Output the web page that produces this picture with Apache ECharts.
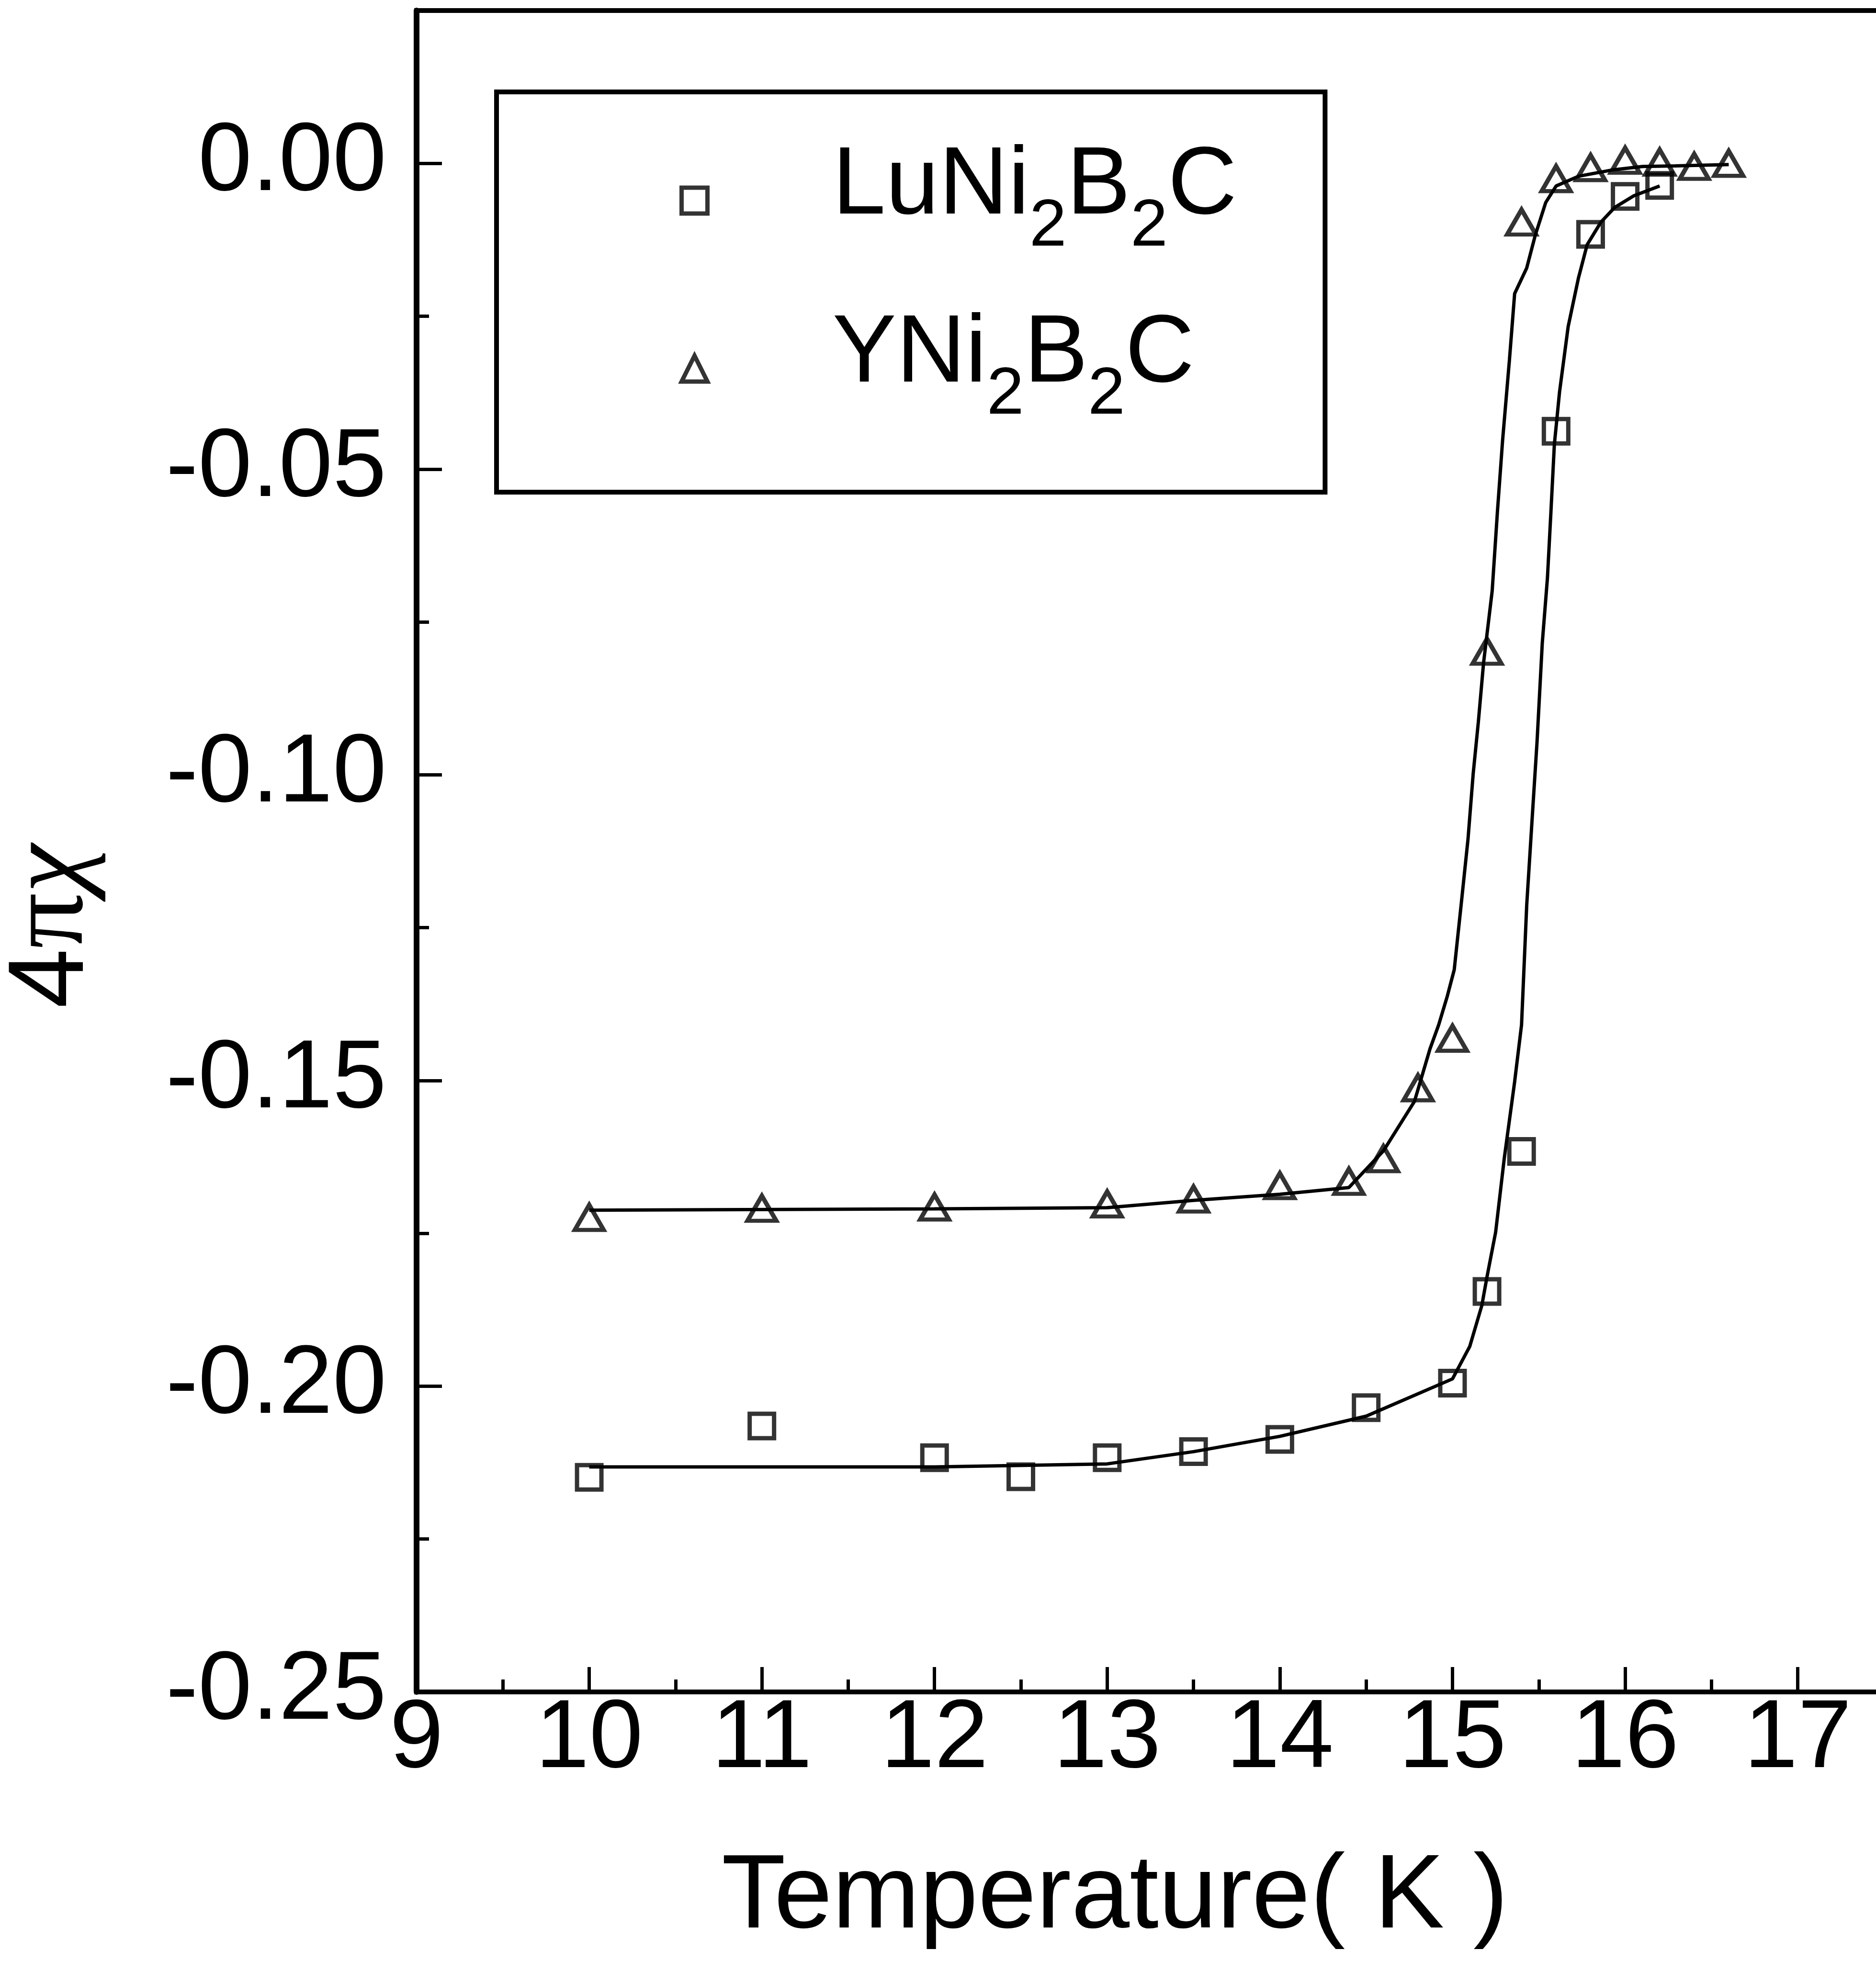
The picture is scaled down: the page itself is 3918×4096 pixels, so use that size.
<!DOCTYPE html>
<html><head><meta charset="utf-8">
<script src="https://cdn.jsdelivr.net/npm/echarts@6/dist/echarts.min.js"></script>
<style>html,body{margin:0;padding:0;background:#fff}#c{width:3918px;height:4096px}</style>
</head><body><div id="c"></div>
<script>
// ---- data ----
const luT   = [10, 11, 12, 12.5, 13, 13.5, 14, 14.5, 15, 15.2, 15.4, 15.6, 15.8, 16, 16.2];
const luChi = [-0.2149, -0.2065, -0.2117, -0.2148, -0.2117, -0.2107, -0.2087, -0.2035, -0.1995, -0.1845, -0.1616, -0.0438, -0.0116, -0.0054, -0.0036];

const yT   = [10, 11, 12, 13, 13.5, 14, 14.4, 14.6, 14.8, 15, 15.2, 15.4, 15.6, 15.8, 16, 16.2, 16.4, 16.6];
const yChi = [-0.1724, -0.1709, -0.1707, -0.1702, -0.1694, -0.1672, -0.1665, -0.1628, -0.1512, -0.1431, -0.0798, -0.0096, -0.0025, -0.0007, 0.0005, 0.0002, -0.0005, 0.0000];

const luFitT   = [10, 12, 13, 13.5, 14, 14.5, 15, 15.1, 15.17, 15.2, 15.25, 15.3, 15.36, 15.4, 15.43, 15.46, 15.49, 15.52, 15.55, 15.57, 15.59, 15.62, 15.67, 15.73, 15.78, 15.86, 15.94, 16.05, 16.2];
const luFitChi = [-0.2132, -0.2132, -0.2127, -0.2107, -0.2082, -0.2049, -0.1988, -0.1935, -0.1868, -0.1821, -0.1748, -0.1627, -0.1502, -0.1409, -0.1213, -0.1078, -0.0945, -0.0785, -0.0678, -0.0571, -0.0460, -0.0374, -0.0267, -0.0187, -0.0133, -0.0096, -0.0072, -0.0053, -0.0037];

const yFitT   = [10, 12, 13, 13.5, 14, 14.4, 14.6, 14.78, 14.87, 14.92, 14.97, 15.01, 15.05, 15.09, 15.12, 15.15, 15.18, 15.23, 15.26, 15.29, 15.33, 15.36, 15.43, 15.48, 15.54, 15.6, 15.73, 15.92, 16.1, 16.29, 16.6];
const yFitChi = [-0.1712, -0.1710, -0.1708, -0.1696, -0.1686, -0.1675, -0.1615, -0.1534, -0.1448, -0.1409, -0.1362, -0.1319, -0.1213, -0.1105, -0.0998, -0.0913, -0.0817, -0.0699, -0.0571, -0.0454, -0.0321, -0.0213, -0.0171, -0.0117, -0.0064, -0.0037, -0.0021, -0.0011, -0.0005, -0.0004, -0.0002];

const seriesNames = ['LuNi2B2C', 'YNi2B2C'];
const xTitle = 'Temperature( K )';
const xMin = 9, xMax = 17.6, xStep = 1;
const yMin = -0.25, yMax = 0.025, yStep = 0.05;

// ---- chart ----
const FONT = "'Liberation Sans', Arial, sans-serif";
const pair = (a, b) => a.map((v, i) => [v, b[i]]);
const hollow = { color: 'rgba(0,0,0,0)', borderColor: '#000', borderWidth: 9 };

const chart = echarts.init(document.getElementById('c'), null, { renderer: 'canvas' });
const option = {
  animation: false,
  backgroundColor: '#fff',
  grid: { left: 870, top: 22, width: 3101, height: 3512, outerBoundsMode: 'none', containLabel: false,
          show: true, borderColor: '#000', borderWidth: 10, backgroundColor: 'rgba(0,0,0,0)' },
  xAxis: [
    {
      type: 'value', min: xMin, max: xMax, interval: xStep, position: 'bottom',
      axisLine: { show: true, onZero: false, lineStyle: { color: '#000', width: 10 } },
      axisTick: { show: true, inside: true, length: 52, lineStyle: { color: '#000', width: 7 } },
      axisLabel: { show: true, margin: 0, fontSize: 202, fontFamily: FONT, color: '#000', showMaxLabel: false },
      splitLine: { show: false },
      name: xTitle, nameLocation: 'middle', nameGap: 322,
      nameTextStyle: { fontSize: 219, fontFamily: FONT, color: '#000', padding: [0, 184, 0, 0] }
    },
    {
      type: 'value', min: xMin, max: xMax, interval: xStep / 2, position: 'bottom',
      axisLine: { show: false, onZero: false },
      axisTick: { show: true, inside: true, length: 26, lineStyle: { color: '#000', width: 7 } },
      axisLabel: { show: false }, splitLine: { show: false }
    }
  ],
  yAxis: [
    {
      type: 'value', min: yMin, max: yMax, interval: yStep, position: 'left',
      axisLine: { show: true, onZero: false, lineStyle: { color: '#000', width: 12 } },
      axisTick: { show: true, inside: true, length: 53, lineStyle: { color: '#000', width: 7 } },
      axisLabel: { show: true, margin: 63, fontSize: 202, fontFamily: FONT, color: '#000', showMaxLabel: false,
                   padding: [0, 0, 70, 0], formatter: v => v.toFixed(2) },
      splitLine: { show: false },
      name: '{a|4}{b|π}{c|χ}', nameLocation: 'middle', nameRotate: 90, nameGap: 644,
      nameTextStyle: {
        padding: [0, 314, 0, 0],
        rich: {
          a: { fontSize: 224, fontFamily: FONT, color: '#000' },
          b: { fontSize: 230, fontFamily: "'Liberation Serif', serif", color: '#000' },
          c: { fontSize: 230, fontFamily: "'Liberation Serif', serif", fontStyle: 'italic', color: '#000' }
        }
      }
    },
    {
      type: 'value', min: yMin, max: yMax, interval: yStep / 2, position: 'left',
      axisLine: { show: false, onZero: false },
      axisTick: { show: true, inside: true, length: 26, lineStyle: { color: '#000', width: 7 } },
      axisLabel: { show: false }, splitLine: { show: false }
    }
  ],
  legend: {
    orient: 'vertical', left: 1037, top: 192,
    padding: [99, 184, 130, 382],
    itemGap: 95, itemWidth: 54, itemHeight: 54,
    borderColor: '#000', borderWidth: 10, backgroundColor: '#fff',
    selectedMode: false,
    data: [{ name: seriesNames[0], icon: 'rect' }, { name: seriesNames[1], icon: 'triangle' }],
    itemStyle: hollow,
    formatter: name => name === seriesNames[0]
      ? '{m|LuNi}{s|2}{m|B}{s|2}{m|C}'
      : '{m|YNi}{s|2}{m|B}{s|2}{m|C}',
    textStyle: {
      padding: [0, 0, 0, 256],
      rich: {
        m: { fontSize: 200, fontFamily: FONT, color: '#000', lineHeight: 240, padding: [0, 0, 56, 0] },
        s: { fontSize: 140, fontFamily: FONT, color: '#000', lineHeight: 120, padding: [111, 0, 0, 0] }
      }
    }
  },
  series: [
    { name: 'LuFit', type: 'line', xAxisIndex: 0, yAxisIndex: 0, data: pair(luFitT, luFitChi),
      symbol: 'none', smooth: false, lineStyle: { color: '#000', width: 7 }, silent: true, z: 2 },
    { name: 'YFit', type: 'line', xAxisIndex: 0, yAxisIndex: 0, data: pair(yFitT, yFitChi),
      symbol: 'none', smooth: false, lineStyle: { color: '#000', width: 7 }, silent: true, z: 2 },
    { name: seriesNames[0], type: 'scatter', xAxisIndex: 0, yAxisIndex: 0, data: pair(luT, luChi),
      symbol: 'rect', symbolSize: 51, itemStyle: hollow, z: 3 },
    { name: seriesNames[1], type: 'scatter', xAxisIndex: 0, yAxisIndex: 0, data: pair(yT, yChi),
      symbol: 'triangle', symbolSize: [60, 52], itemStyle: hollow, z: 3 }
  ]
};
chart.setOption(option);
</script></body></html>
